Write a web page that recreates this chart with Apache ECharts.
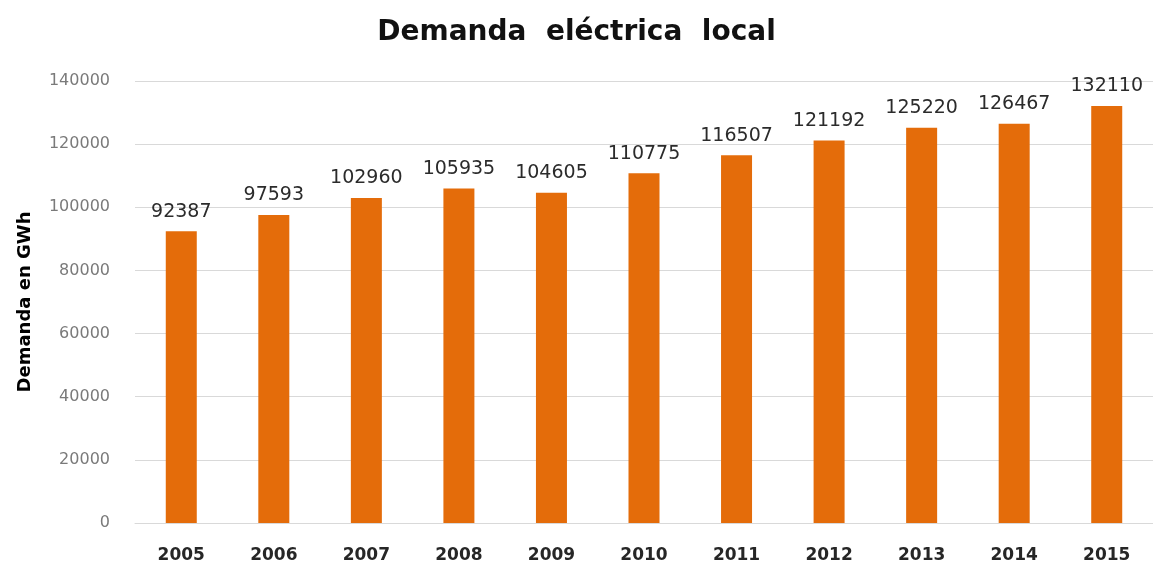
<!DOCTYPE html>
<html lang="es">
<head>
    <meta charset="UTF-8">
    <title>Demanda eléctrica local</title>
    <script src="https://cdn.jsdelivr.net/npm/echarts@6/dist/echarts.min.js"></script>
    <style>
        html, body { margin: 0; padding: 0; background: #fff; }
        #chart { width: 1153px; height: 567px; }
    </style>
</head>
<body>
<div id="chart"></div>
<script type="text/javascript">
    var years = ['2005', '2006', '2007', '2008', '2009', '2010', '2011', '2012', '2013', '2014', '2015'];
    var demanda = [92387, 97593, 102960, 105935, 104605, 110775, 116507, 121192, 125220, 126467, 132110];

    var chart = echarts.init(document.getElementById('chart'));
    var option = {
        backgroundColor: '#ffffff',
        animation: false,
        title: {
            text: 'Demanda  eléctrica  local',
            left: 'center',
            top: 14,
            textStyle: {
                fontFamily: 'DejaVu Sans',
                fontSize: 28,
                fontWeight: 'bold',
                color: '#111111'
            }
        },
        grid: {
            left: 135,
            right: -6,
            top: 81,
            bottom: 44
        },
        xAxis: {
            type: 'category',
            data: years,
            axisLine: { lineStyle: { color: '#d9d9d9', width: 1 } },
            axisTick: { show: false },
            axisLabel: {
                margin: 24,
                fontFamily: 'DejaVu Sans',
                fontSize: 17,
                fontWeight: 'bold',
                color: '#262626'
            }
        },
        yAxis: {
            type: 'value',
            min: 0,
            max: 140000,
            interval: 20000,
            name: 'Demanda en GWh',
            nameLocation: 'middle',
            nameGap: 101,
            nameRotate: 90,
            nameTextStyle: {
                fontFamily: 'DejaVu Sans',
                fontSize: 18,
                fontWeight: 'bold',
                color: '#000000'
            },
            axisLine: { show: false },
            axisTick: { show: false },
            splitLine: { lineStyle: { color: '#d9d9d9', width: 1 } },
            axisLabel: {
                margin: 25,
                fontFamily: 'DejaVu Sans',
                fontSize: 16,
                color: '#7a7a7a',
                formatter: function (v) { return String(v); }
            }
        },
        series: [{
            type: 'bar',
            data: demanda,
            barWidth: 31,
            itemStyle: { color: '#e46c0a' },
            label: {
                show: true,
                position: 'top',
                distance: 10,
                fontFamily: 'DejaVu Sans',
                fontSize: 19,
                color: '#2b2b2b'
            }
        }]
    };
    chart.setOption(option);
</script>
</body>
</html>
